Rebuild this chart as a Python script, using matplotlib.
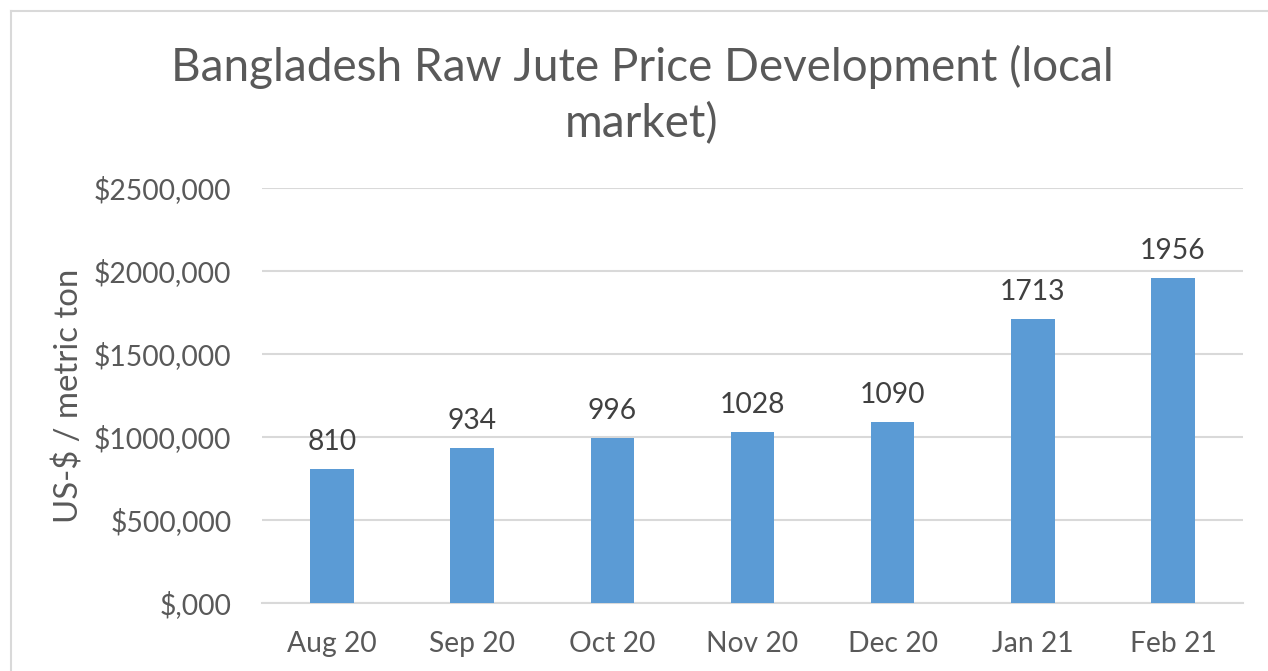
import matplotlib
matplotlib.use("Agg")
import matplotlib.pyplot as plt
from matplotlib.lines import Line2D

categories = ["Aug 20", "Sep 20", "Oct 20", "Nov 20", "Dec 20", "Jan 21", "Feb 21"]
values = [810, 934, 996, 1028, 1090, 1713, 1956]
yticks = [0, 500, 1000, 1500, 2000, 2500]
ytick_labels = ["$,000", "$500,000", "$1000,000", "$1500,000", "$2000,000", "$2500,000"]

plt.rcParams['font.family'] = ['Lato', 'DejaVu Sans']

fig = plt.figure(figsize=(12.68, 6.71), dpi=100)
ax = fig.add_axes([262/1268, 1-603/671, (1243-262)/1268, (603-188)/671])

grid_c = "#D9D9D9"
text_c = "#595959"
bar_c = "#5B9BD5"

x = list(range(len(categories)))
bars = ax.bar(x, values, width=0.31, color=bar_c, zorder=3)
ax.set_xlim(-0.5, len(categories)-0.5)
ax.set_ylim(0, 2500)
ax.set_yticks(yticks)
ax.set_yticklabels(ytick_labels)
ax.set_xticks(x)
ax.set_xticklabels(categories)
ax.yaxis.grid(True, color=grid_c, linewidth=1.5, zorder=0)
for s in ["top", "right", "left"]:
    ax.spines[s].set_visible(False)
ax.spines["bottom"].set_color(grid_c)
ax.spines["bottom"].set_linewidth(1.5)
ax.tick_params(axis="both", length=0, labelsize=20.3, colors=text_c)
ax.tick_params(axis="y", pad=22)
ax.tick_params(axis="x", pad=20)

for xi, v in zip(x, values):
    ax.annotate(str(v), (xi, v), xytext=(0, 10), textcoords="offset points",
                ha="center", va="bottom", fontsize=20.3, color="#404040")

ax.set_ylabel("US-$ / metric ton", fontsize=23.7, color=text_c, labelpad=7)

fig.text(642/1268, 1-95/671, "Bangladesh Raw Jute Price Development (local\nmarket)",
         ha="center", va="center", fontsize=33, color=text_c, linespacing=1.38)

# chart border (top and left visible)
fig.add_artist(Line2D([11/1268, 1.0], [1-11/671, 1-11/671], color="#D9D9D9", linewidth=1.5, transform=fig.transFigure))
fig.add_artist(Line2D([11/1268, 11/1268], [0, 1-11/671], color="#D9D9D9", linewidth=1.5, transform=fig.transFigure))

fig.savefig("out.png", dpi=100)
